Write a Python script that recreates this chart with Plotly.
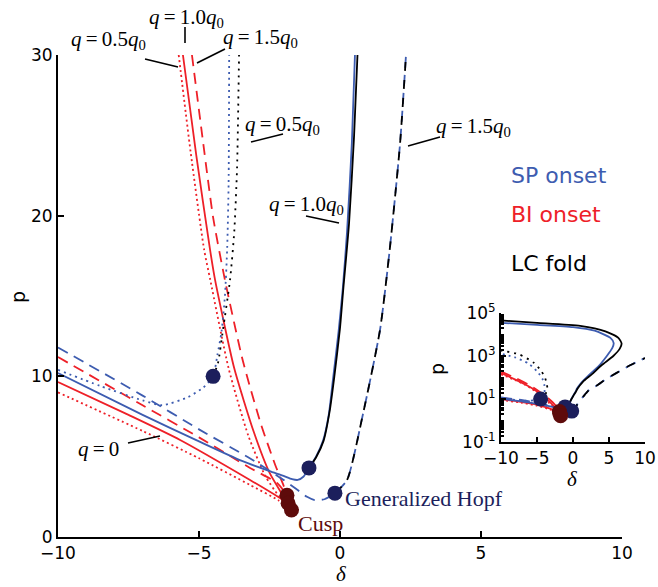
import plotly.graph_objects as go

# ---------------- data (delta, p) ----------------
# SP onset (blue)
sp_q05_d = [-10, -8.5, -7, -6.3, -5.4, -4.85, -4.5, -4.35, -4.2, -4.08, -4.0, -3.95, -3.93, -3.98, -4.2, -4.9, -6.2, -8, -10]
sp_q05_p = [10.4, 9.4, 8.5, 8.2, 8.7, 9.3, 10, 11.3, 12.8, 15, 18, 22, 30, 45, 80, 180, 450, 850, 1300]
sp_q10_d = [-10, -7, -5, -3.5, -2.5, -2.0, -1.7, -1.5, -1.3, -1.1, -0.85, -0.6, -0.4, -0.25, -0.05, 0.1, 0.25, 0.42, 0.53, 1.2, 2.1, 3.5, 4.7, 5.45, 5.65, 5.2, 3.0, 0.0, -5, -10]
sp_q10_p = [10.2, 7.6, 5.95, 4.75, 4.1, 3.8, 3.6, 3.55, 3.75, 4.3, 5.0, 6.0, 7.6, 9.8, 12.8, 15.5, 19, 24.5, 30, 60, 120, 320, 1000, 2300, 4000, 7000, 15000, 22000, 28000, 35000]
sp_q15_d = [-10, -7, -5, -3.2, -2.0, -1.5, -1.17, -0.9, -0.55, -0.18, 0.25, 0.82, 1.42, 1.77, 2.13, 2.34, 3.2, 4.5, 6, 8, 10]
sp_q15_p = [11.8, 8.8, 6.7, 4.9, 3.55, 2.92, 2.5, 2.3, 2.35, 2.73, 3.55, 7.7, 12.9, 18, 24.5, 30, 40, 80, 160, 380, 800]

# LC fold (black)
lc_q05_d = [-4.5, -4.33, -4.15, -3.9, -3.75, -3.65, -3.58, -3.6, -3.9, -4.4, -5.5, -7.5, -10]
lc_q05_p = [10, 10.8, 12.9, 16, 19, 23, 30, 45, 100, 200, 500, 1200, 1800]
lc_q10_d = [-1.1, -0.85, -0.58, -0.37, -0.2, 0.0, 0.12, 0.32, 0.5, 0.62, 1.4, 2.6, 4.0, 5.6, 6.5, 6.75, 6.3, 4.5, 1.0, -5, -10]
lc_q10_p = [4.3, 4.95, 6.0, 7.8, 10, 13, 15.5, 19.5, 25, 30, 65, 140, 380, 1000, 2200, 3800, 7000, 14000, 25000, 35000, 45000]
lc_q15_d = [-0.18, 0.25, 0.82, 1.42, 1.77, 2.13, 2.34, 3.2, 4.5, 6, 8, 10]
lc_q15_p = [2.73, 3.55, 7.7, 12.9, 18, 24.5, 30, 40, 80, 160, 380, 800]

# BI onset (red): upper and lower branches meeting at the cusp
bi_q05_up_d = [-10, -8, -6.6, -5.72, -5.3, -4.82, -4.6, -3.95, -3.25, -2.65, -2.15, -1.72]
bi_q05_up_p = [140, 75, 45, 30, 24, 17.9, 16, 10.5, 6.3, 3.8, 2.5, 1.68]
bi_q05_lo_d = [-10, -7, -5, -3.19, -2.2, -1.72]
bi_q05_lo_p = [9.0, 6.6, 4.9, 3.24, 2.3, 1.68]
bi_q10_up_d = [-10, -8, -6.5, -5.57, -5.1, -4.61, -4.43, -3.75, -3.05, -2.5, -2.1, -1.84]
bi_q10_up_p = [160, 80, 45, 30, 23.8, 17.9, 16, 10.5, 6.5, 4.0, 2.8, 2.1]
bi_q10_lo_d = [-10, -7.5, -5.67, -3.19, -2.13, -1.84]
bi_q10_lo_p = [9.65, 7.6, 6.04, 3.55, 2.43, 2.1]
bi_q15_up_d = [-10, -8, -6.2, -5.25, -4.85, -4.5, -4.08, -3.45, -2.8, -2.3, -2.0, -1.88]
bi_q15_up_p = [190, 95, 47, 30, 24.5, 19.9, 16, 11, 7, 4.5, 3.2, 2.6]
bi_q15_lo_d = [-10, -7, -5, -3.19, -2.23, -1.88]
bi_q15_lo_p = [11.2, 8.2, 6.2, 4.3, 3.36, 2.6]

# special points
ghopf_d = [-4.5, -1.1, -0.18]
ghopf_p = [10, 4.3, 2.73]
cusp_d = [-1.88, -1.84, -1.72]
cusp_p = [2.6, 2.1, 1.68]

x_ticks = [-10, -5, 0, 5, 10]
y_ticks = [0, 10, 20, 30]
inset_y_ticks = [0.1, 10, 1000, 100000]
inset_y_text = ["10<sup>-1</sup>", "10<sup>1</sup>", "10<sup>3</sup>", "10<sup>5</sup>"]
P_TOP = 30  # upper limit of the main panel

BLUE = "#3d5cb0"
RED = "#ee2028"
BLACK = "#000000"
NAVY = "#1c1f5c"
DARKRED = "#5e0b0b"

DASH = "11px,7px"
DOT_B = "2px,4px"
DOT_K = "2px,5px"
DOT_R = "2px,3px"

# ---------------- layout geometry ----------------
W, H = 658, 587
ML, MR, MT, MB = 58, 10, 55, 50
PW, PH = W - ML - MR, H - MT - MB


def px(xp):
    return (xp - ML) / PW


def py(yp):
    return (H - MB - yp) / PH


fig = go.Figure()


def add_curve(d, p, color, dash, width=1.8, inset_width=1.8):
    common = dict(mode="lines", hoverinfo="skip", showlegend=False, line_shape="spline")
    # main panel: only the part inside the window (p <= P_TOP)
    md = [a for a, b in zip(d, p) if b <= P_TOP]
    mp = [b for b in p if b <= P_TOP]
    fig.add_trace(go.Scatter(x=md, y=mp, line=dict(color=color, width=width, dash=dash, smoothing=0.6),
                             xaxis="x", yaxis="y", **common))
    fig.add_trace(go.Scatter(x=d, y=p, line=dict(color=color, width=inset_width, dash=dash, smoothing=0.6),
                             xaxis="x2", yaxis="y2", **common))


# red
add_curve(bi_q05_up_d, bi_q05_up_p, RED, DOT_R)
add_curve(bi_q05_lo_d, bi_q05_lo_p, RED, DOT_R)
add_curve(bi_q10_up_d, bi_q10_up_p, RED, "solid")
add_curve(bi_q10_lo_d, bi_q10_lo_p, RED, "solid")
add_curve(bi_q15_up_d, bi_q15_up_p, RED, DASH)
add_curve(bi_q15_lo_d, bi_q15_lo_p, RED, DASH)
# blue
add_curve(sp_q05_d, sp_q05_p, BLUE, DOT_B)
add_curve(sp_q10_d, sp_q10_p, BLUE, "solid")
add_curve(sp_q15_d, sp_q15_p, BLUE, DASH)
# black
add_curve(lc_q05_d, lc_q05_p, BLACK, DOT_K)
add_curve(lc_q10_d, lc_q10_p, BLACK, "solid")
add_curve(lc_q15_d, lc_q15_p, BLACK, "9px,9px")

# special points
for xa, ya, s in [("x", "y", 15), ("x2", "y2", 15)]:
    fig.add_trace(go.Scatter(x=ghopf_d, y=ghopf_p, mode="markers", xaxis=xa, yaxis=ya,
                             marker=dict(color=NAVY, size=s, line=dict(width=0)),
                             hoverinfo="skip", showlegend=False))
    fig.add_trace(go.Scatter(x=cusp_d, y=cusp_p, mode="markers", xaxis=xa, yaxis=ya,
                             marker=dict(color=DARKRED, size=s, line=dict(width=0)),
                             hoverinfo="skip", showlegend=False))

tickfont = dict(family="DejaVu Sans", size=17, color="black")
axis_common = dict(showgrid=False, zeroline=False, showline=True, linecolor="black", linewidth=2,
                   ticks="inside", ticklen=6, tickwidth=1.5, tickcolor="black", tickfont=tickfont,
                   mirror=False, automargin=False)

main_xend = (622 - ML) / PW
fig.update_layout(
    template="none",
    width=W, height=H, autosize=False,
    margin=dict(l=ML, r=MR, t=MT, b=MB, pad=0, autoexpand=False),
    paper_bgcolor="white", plot_bgcolor="white",
    showlegend=False,
    xaxis=dict(domain=[0, main_xend], range=[-10, 10], tickvals=x_ticks, anchor="y", **axis_common),
    yaxis=dict(domain=[0, 1], range=[0, 30], tickvals=y_ticks, anchor="x", **axis_common),
    xaxis2=dict(domain=[px(501), px(645)], range=[-10, 10], tickvals=x_ticks, anchor="y2",
                **{**axis_common, "ticklen": 5}),
    yaxis2=dict(domain=[py(442), py(313)], type="log", range=[-1, 5], tickvals=inset_y_ticks,
                ticktext=inset_y_text, anchor="x2",
                minor=dict(ticks="inside", ticklen=3, tickcolor="black", dtick="D1", showgrid=False),
                **{**axis_common, "ticklen": 5}),
)

serif = dict(family="Liberation Serif", size=21, color="black")


def qlab(v):
    return "<i>q</i>\u2009=\u2009" + v + "<i>q</i><sub>0</sub>"


annots = [
    (qlab("0.5"), 108, 40, serif),
    (qlab("1.0"), 186, 18, serif),
    (qlab("1.5"), 260, 38, serif),
    (qlab("0.5"), 282, 125, serif),
    (qlab("1.0"), 306, 205, serif),
    (qlab("1.5"), 473, 127, serif),
    ("<i>q</i>\u2009=\u20090", 98, 449, serif),
    ("Generalized Hopf", 424, 498, dict(family="Liberation Serif", size=22, color=NAVY)),
    ("Cusp", 320, 523, dict(family="Liberation Serif", size=22, color=DARKRED)),
    ("<i>\u03b4</i>", 341, 574, dict(family="Liberation Serif", size=21, color="black")),
    ("<i>\u03b4</i>", 572, 479, dict(family="Liberation Serif", size=21, color="black")),
]
for text, xx, yy, f in annots:
    fig.add_annotation(text=text, x=px(xx), y=py(yy), xref="paper", yref="paper",
                       xanchor="center", yanchor="middle", showarrow=False, font=f)

# y-axis labels (rotated)
for xx, yy in [(18, 297), (437, 369)]:
    fig.add_annotation(text="p", x=px(xx), y=py(yy), xref="paper", yref="paper", textangle=-90,
                       xanchor="center", yanchor="middle", showarrow=False,
                       font=dict(family="DejaVu Sans", size=19, color="black"))

# legend-like texts
for text, col, yy in [("SP onset", BLUE, 175), ("BI onset", RED, 214), ("LC fold", BLACK, 263)]:
    fig.add_annotation(text=text, x=px(509), y=py(yy), xref="paper", yref="paper",
                       xanchor="left", yanchor="middle", showarrow=False,
                       font=dict(family="DejaVu Sans", size=22, color=col))

# leader lines for labels
leaders = [((145, 59), (178, 67)), ((185, 27), (185, 43)), ((197, 63), (225, 49)),
           ((251, 142), (283, 134)), ((306, 216), (339, 223)), ((408, 146), (440, 137)),
           ((128, 443), (160, 436))]
for (x0, y0), (x1, y1) in leaders:
    fig.add_shape(type="line", xref="paper", yref="paper", x0=px(x0), y0=py(y0), x1=px(x1), y1=py(y1),
                  line=dict(color="black", width=1.6))

fig.write_html("out.html")
